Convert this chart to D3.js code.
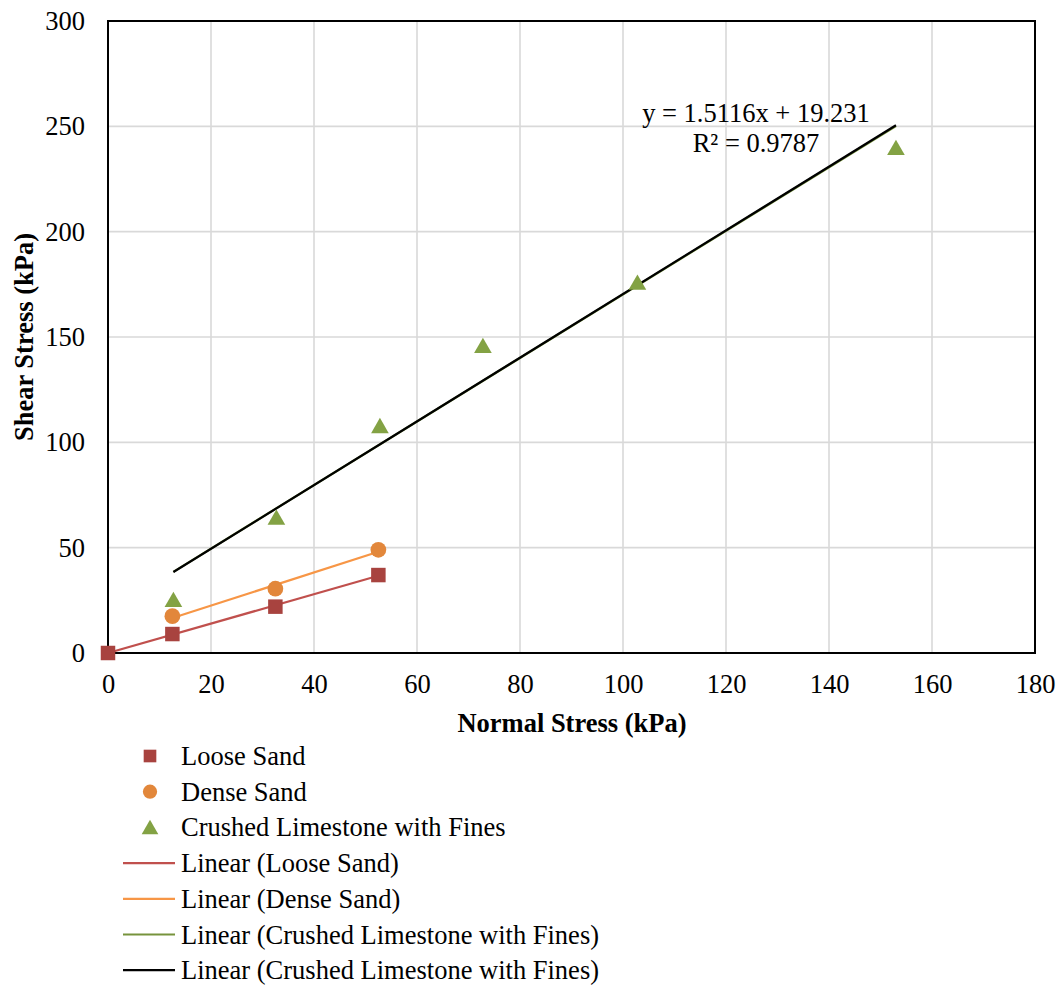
<!DOCTYPE html>
<html>
<head>
<meta charset="utf-8">
<script src="https://cdn.jsdelivr.net/npm/d3@7"></script>
<style>
  html, body { margin: 0; padding: 0; background: #fff; }
  svg { display: block; font-family: "Liberation Serif", "Times New Roman", serif; }
</style>
</head>
<body>
<svg id="chart" width="1063" height="986"></svg>
<script>
// Direct shear test results: normal stress vs. shear stress (kPa)
const looseX = [0, 12.5, 32.5, 52.5];
const looseY = [0, 9, 22, 37];
const denseX = [12.5, 32.5, 52.5];
const denseY = [17.5, 30.5, 49];
const limeX = [12.7, 32.7, 52.8, 72.8, 102.8, 153];
const limeY = [25.5, 64.5, 108, 146, 176, 240];

// Fitted line reported for the crushed limestone series
const limeSlope = 1.5116;
const limeIntercept = 19.231;
const limeEquation = "y = 1.5116x + 19.231";
const limeR2 = "R² = 0.9787";

const xTicks = [0, 20, 40, 60, 80, 100, 120, 140, 160, 180];
const yTicks = [0, 50, 100, 150, 200, 250, 300];

const legendLabels = [
  "Loose Sand",
  "Dense Sand",
  "Crushed Limestone with Fines",
  "Linear (Loose Sand)",
  "Linear (Dense Sand)",
  "Linear (Crushed Limestone with Fines)",
  "Linear (Crushed Limestone with Fines)"
];

const colors = {
  loose: "#a8433f",
  looseLine: "#c0504d",
  dense: "#e2873b",
  denseLine: "#f79646",
  lime: "#83a244",
  limeLine: "#77933c",
  fit: "#000000"
};

const FS = 26.5;
const svg = d3.select("#chart");
const plot = { left: 108, right: 1035, top: 21, bottom: 653 };

const x = d3.scaleLinear().domain([0, 180]).range([plot.left, plot.right]);
const y = d3.scaleLinear().domain([0, 300]).range([plot.bottom, plot.top]);

// Gridlines
svg.append("g")
  .selectAll("line")
  .data(xTicks.filter(d => d > 0 && d < 180))
  .join("line")
  .attr("x1", d => x(d)).attr("x2", d => x(d))
  .attr("y1", plot.top).attr("y2", plot.bottom)
  .attr("stroke", "#d9d9d9").attr("stroke-width", 1.6);
svg.append("g")
  .selectAll("line")
  .data(yTicks.filter(d => d > 0 && d < 300))
  .join("line")
  .attr("x1", plot.left).attr("x2", plot.right)
  .attr("y1", d => y(d)).attr("y2", d => y(d))
  .attr("stroke", "#d9d9d9").attr("stroke-width", 1.6);

// Plot frame
svg.append("rect")
  .attr("x", plot.left).attr("y", plot.top)
  .attr("width", plot.right - plot.left).attr("height", plot.bottom - plot.top)
  .attr("fill", "none").attr("stroke", "#000").attr("stroke-width", 2);

// Axes (labels only, the frame draws the lines)
const xAxis = d3.axisBottom(x).tickValues(xTicks).tickSize(0).tickPadding(21);
const yAxis = d3.axisLeft(y).tickValues(yTicks).tickSize(0).tickPadding(23);
const gx = svg.append("g").attr("transform", `translate(0,${plot.bottom})`).call(xAxis);
const gy = svg.append("g").attr("transform", `translate(${plot.left},0)`).call(yAxis);
[gx, gy].forEach(g => {
  g.select(".domain").remove();
  g.selectAll("text")
    .attr("font-family", "'Liberation Serif', 'Times New Roman', serif")
    .attr("font-size", FS).attr("fill", "#000");
});

// Axis titles
svg.append("text")
  .attr("x", 572).attr("y", 732)
  .attr("text-anchor", "middle").attr("font-size", FS).attr("font-weight", "bold")
  .text("Normal Stress (kPa)");
svg.append("text")
  .attr("transform", `translate(33,${(plot.top + plot.bottom) / 2}) rotate(-90)`)
  .attr("text-anchor", "middle").attr("font-size", FS).attr("font-weight", "bold")
  .text("Shear Stress (kPa)");

// Least-squares fit for series without a reported equation
function fit(xs, ys) {
  const mx = d3.mean(xs), my = d3.mean(ys);
  let sxy = 0, sxx = 0;
  xs.forEach((v, i) => { sxy += (v - mx) * (ys[i] - my); sxx += (v - mx) * (v - mx); });
  const m = sxy / sxx;
  return { m, b: my - m * mx };
}
function trend(xs, m, b, color, width) {
  const x0 = d3.min(xs), x1 = d3.max(xs);
  svg.append("line")
    .attr("x1", x(x0)).attr("y1", y(m * x0 + b))
    .attr("x2", x(x1)).attr("y2", y(m * x1 + b))
    .attr("stroke", color).attr("stroke-width", width);
}

const lf = fit(looseX, looseY);
const df = fit(denseX, denseY);
const gf = fit(limeX, limeY);
trend(looseX, lf.m, lf.b, colors.looseLine, 2.2);
trend(denseX, df.m, df.b, colors.denseLine, 2.2);
trend(limeX, gf.m, gf.b, colors.limeLine, 2.2);
trend(limeX, limeSlope, limeIntercept, colors.fit, 2.2);

// Markers (triangles are centred on their bounding box, not their centroid)
const square = d3.symbol().type(d3.symbolSquare).size(210);
const circle = d3.symbol().type(d3.symbolCircle).size(195);
const triSize = 135;
const triangle = d3.symbol().type(d3.symbolTriangle).size(triSize);
const triShift = Math.sqrt(triSize / (3 * Math.sqrt(3))) / 2;

function markers(xs, ys, sym, color, dy = 0) {
  svg.append("g").selectAll("path")
    .data(xs.map((v, i) => [v, ys[i]]))
    .join("path")
    .attr("d", sym)
    .attr("transform", d => `translate(${x(d[0])},${y(d[1]) + dy})`)
    .attr("fill", color);
}
markers(looseX, looseY, square, colors.loose);
markers(denseX, denseY, circle, colors.dense);
markers(limeX, limeY, triangle, colors.lime, triShift);

// Equation label
svg.append("text").attr("x", 756).attr("y", 122)
  .attr("text-anchor", "middle").attr("font-size", FS).text(limeEquation);
svg.append("text").attr("x", 756).attr("y", 152)
  .attr("text-anchor", "middle").attr("font-size", FS).text(limeR2);

// Legend
const legendTop = 756, legendStep = 35.7;
const legendSymbols = [
  { sym: d3.symbol().type(d3.symbolSquare).size(160), color: colors.loose },
  { sym: d3.symbol().type(d3.symbolCircle).size(160), color: colors.dense },
  { sym: d3.symbol().type(d3.symbolTriangle).size(120), color: colors.lime, dy: 2 },
  { line: colors.looseLine },
  { line: colors.denseLine },
  { line: colors.limeLine },
  { line: colors.fit }
];
const lg = svg.append("g");
legendLabels.forEach((label, i) => {
  const cy = legendTop + i * legendStep;
  const s = legendSymbols[i];
  if (s.sym) {
    lg.append("path").attr("d", s.sym())
      .attr("transform", `translate(150,${cy + (s.dy || 0)})`).attr("fill", s.color);
  } else {
    lg.append("line").attr("x1", 123).attr("x2", 175).attr("y1", cy).attr("y2", cy)
      .attr("stroke", s.line).attr("stroke-width", 2.2);
  }
  lg.append("text").attr("x", 181).attr("y", cy + 9)
    .attr("font-size", FS).text(label);
});
</script>
</body>
</html>
